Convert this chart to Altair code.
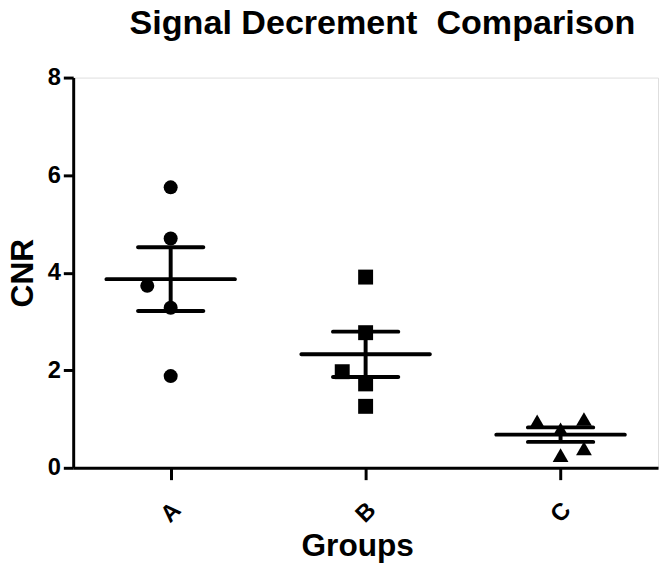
import json
import altair as alt
import pandas as pd

# ---- data ----
groups = ["A", "B", "C"]
values_a = [5.75, 4.70, 3.73, 3.28, 1.88]
values_b = [3.91, 2.77, 1.97, 1.72, 1.26]
values_c = [0.95, 1.00, 0.79, 0.40, 0.26]
# horizontal scatter of overlapping points (in category units)
jitter_a = [0, 0, -0.12, 0, 0]
jitter_b = [0, 0, -0.12, 0, 0]
jitter_c = [-0.12, 0.12, 0, 0.12, 0]

y_ticks = [0, 2, 4, 6, 8]
# second space is non-breaking so the double gap survives SVG whitespace collapsing
title_text = "Signal Decrement \u00a0Comparison"

rows = []
for i, (g, vals, jit) in enumerate(zip(groups, [values_a, values_b, values_c],
                                       [jitter_a, jitter_b, jitter_c])):
    for v, j in zip(vals, jit):
        rows.append({"group": g, "pos": i + 1, "jitter": j, "v": v})
df = pd.DataFrame(rows)

FONT = "Liberation Sans"

x_scale = alt.Scale(domain=[0.5, len(groups) + 0.5], nice=False, zero=False)
y_scale = alt.Scale(domain=[0, 8], nice=False)

label_expr = json.dumps(groups) + "[datum.value - 1]"

x_axis = alt.Axis(
    values=list(range(1, len(groups) + 1)), labelExpr=label_expr,
    title="Groups", grid=False,
    labelAngle=315, labelAlign="center", labelBaseline="middle", labelPadding=33,
    labelFont=FONT, labelFontSize=24, labelFontWeight="bold", labelColor="black",
    tickSize=12, tickWidth=3, tickColor="black",
    domainColor="black", domainWidth=3,
    titleFont=FONT, titleFontSize=32, titleFontWeight="bold", titleColor="black",
    titleX=287.5, titleY=89, titleAlign="center", titleBaseline="alphabetic",
)
y_axis = alt.Axis(
    values=y_ticks, title="CNR", grid=False,
    labelFont=FONT, labelFontSize=24, labelFontWeight="bold", labelColor="black",
    labelPadding=3, labelFlush=False,
    tickSize=10, tickWidth=3, tickColor="black",
    domainColor="black", domainWidth=3,
    titleFont=FONT, titleFontSize=32, titleFontWeight="bold", titleColor="black",
    titleAngle=270, titleX=-41, titleY=197.5, titleAlign="center",
    titleBaseline="alphabetic",
)

base = alt.Chart(df)

points = base.transform_calculate(
    xj="datum.pos + datum.jitter"
).mark_point(filled=True, opacity=1, color="black").encode(
    x=alt.X("xj:Q", scale=x_scale, axis=x_axis),
    y=alt.Y("v:Q", scale=y_scale, axis=y_axis),
    shape=alt.Shape("group:N", scale=alt.Scale(domain=groups,
                    range=["circle", "square", "triangle-up"]), legend=None),
    size=alt.Size("group:N", scale=alt.Scale(domain=groups, range=[201, 256, 225]),
                  legend=None),
)

stats = base.transform_aggregate(
    mean="mean(v)", se="stderr(v)", groupby=["pos"]
).transform_calculate(
    lo="datum.mean - datum.se", hi="datum.mean + datum.se"
)

mean_tick = stats.mark_tick(orient="horizontal", size=134, thickness=4,
                            color="black", opacity=1, cornerRadius=2).encode(
    x=alt.X("pos:Q", scale=x_scale),
    y=alt.Y("mean:Q", scale=y_scale),
)
sem_rule = stats.mark_rule(strokeWidth=4, color="black").encode(
    x=alt.X("pos:Q", scale=x_scale),
    y=alt.Y("lo:Q", scale=y_scale),
    y2="hi:Q",
)
sem_lo = stats.mark_tick(orient="horizontal", size=70, thickness=4,
                         color="black", opacity=1, cornerRadius=2).encode(
    x=alt.X("pos:Q", scale=x_scale),
    y=alt.Y("lo:Q", scale=y_scale),
)
sem_hi = stats.mark_tick(orient="horizontal", size=70, thickness=4,
                         color="black", opacity=1, cornerRadius=2).encode(
    x=alt.X("pos:Q", scale=x_scale),
    y=alt.Y("hi:Q", scale=y_scale),
)

chart = alt.layer(points, mean_tick, sem_rule, sem_lo, sem_hi).properties(
    width=592, height=395,
    title=alt.TitleParams(text=title_text, font=FONT, fontSize=34.5, fontWeight="bold",
                          color="black", anchor="middle", frame="group",
                          baseline="alphabetic", offset=0, dy=2.5, dx=17),
    autosize=alt.AutoSizeParams(type="none"),
    padding={"left": 66, "top": 67, "right": 3, "bottom": 98},
).configure_view(stroke=None).configure(background="white")

chart.save("out.html", embed_options={"renderer": "svg", "actions": False})
